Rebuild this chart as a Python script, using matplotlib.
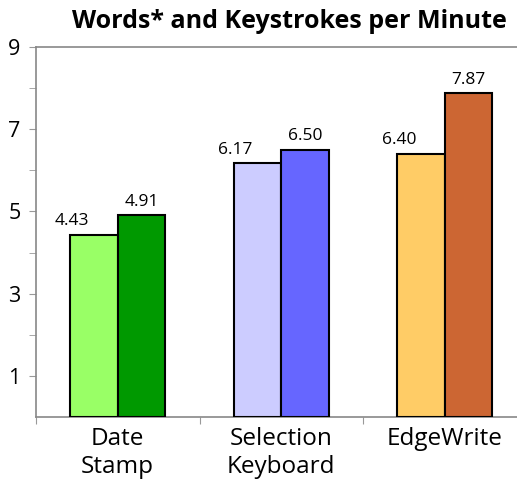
import matplotlib.pyplot as plt
import numpy as np

plt.rcParams['font.family'] = ['Open Sans', 'DejaVu Sans']

categories = ['Date\nStamp', 'Selection\nKeyboard', 'EdgeWrite']
words = [4.43, 6.17, 6.40]
keystrokes = [4.91, 6.50, 7.87]
light_colors = ['#99FF66', '#CCCCFF', '#FFCC66']
dark_colors = ['#009900', '#6666FF', '#CC6633']

fig = plt.figure(figsize=(5.17, 4.82), dpi=100)
ax = fig.add_axes([36 / 517, 65 / 482, 490.5 / 517, 370 / 482])

x = np.arange(len(categories))
w = 0.29
ax.bar(x - w / 2, words, w, color=light_colors, edgecolor='black', linewidth=1.5, zorder=3)
ax.bar(x + w / 2, keystrokes, w, color=dark_colors, edgecolor='black', linewidth=1.5, zorder=3)

# word labels sit a little left of their bars
for xi, v in zip(x - w / 2 - 0.135, words):
    ax.annotate(f'{v:.2f}', (xi, v), xytext=(0, 4), textcoords='offset points',
                ha='center', va='bottom', fontsize=12.5)
for xi, v in zip(x + w / 2, keystrokes):
    ax.annotate(f'{v:.2f}', (xi, v), xytext=(0, 4), textcoords='offset points',
                ha='center', va='bottom', fontsize=12.5)

ax.set_xlim(-0.5, 2.5)
ax.set_ylim(0, 9)

ax.set_yticks([1, 3, 5, 7, 9])
ax.set_yticks([2, 4, 6, 8], minor=True)
ax.tick_params(axis='y', which='both', direction='out', length=5, color='#999999',
               labelsize=15.5, pad=6)

# category boundaries get the ticks, names sit in the middle
ax.set_xticks([-0.5, 0.5, 1.5, 2.5])
ax.set_xticklabels([])
ax.set_xticks(x, minor=True)
ax.set_xticklabels(categories, minor=True, fontsize=17.5, linespacing=1.25)
ax.tick_params(axis='x', which='major', direction='out', length=5, color='#999999')
ax.tick_params(axis='x', which='minor', length=0, pad=7)

for side in ['left', 'top', 'bottom']:
    ax.spines[side].set_color('#888888')
    ax.spines[side].set_linewidth(1.2)
ax.spines['right'].set_visible(False)

fig.text(289 / 517, 1 - 21 / 482, 'Words* and Keystrokes per Minute', ha='center', va='center',
         fontsize=18, fontweight='bold')

fig.savefig('out.png', dpi=100)
